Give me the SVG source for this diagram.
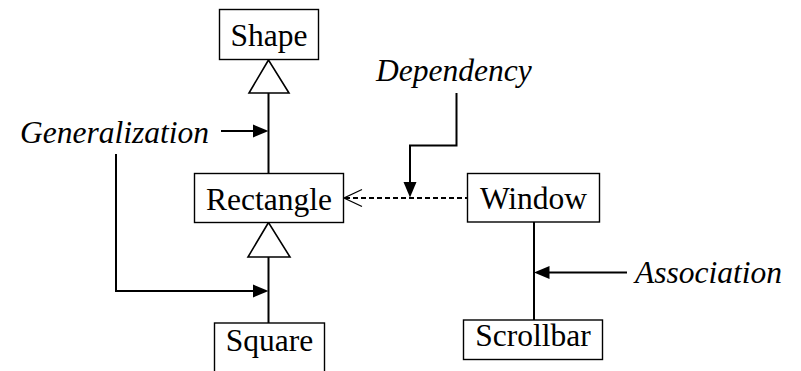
<svg xmlns="http://www.w3.org/2000/svg" width="801" height="371" viewBox="0 0 801 371">
  <style>
    .box { fill: #fff; stroke: #000; stroke-width: 1.4; }
    .name { font-family: "Liberation Serif", "Times New Roman", serif; font-size: 31.5px; fill: #000; text-anchor: middle; }
    .note { font-family: "Liberation Serif", "Times New Roman", serif; font-size: 31.5px; font-style: italic; fill: #000; }
    .line { fill: none; stroke: #000; stroke-width: 2; }
    .dash { fill: none; stroke: #000; stroke-width: 2; stroke-dasharray: 5 3; }
    .tri { fill: #fff; stroke: #000; stroke-width: 1.6; stroke-linejoin: miter; }
    .head { fill: #000; stroke: none; }
  </style>
  <rect width="801" height="371" fill="#fff"/>

  <!-- connectors -->
  <g id="connectors">
    <!-- Rectangle generalizes to Shape -->
    <line class="line" x1="268.5" y1="93" x2="268.5" y2="173"/>
    <polygon class="tri" points="268.5,60 249,93 289,93"/>
    <!-- Square generalizes to Rectangle -->
    <line class="line" x1="268.5" y1="257" x2="268.5" y2="323"/>
    <polygon class="tri" points="268.5,222.5 248,257 290,257"/>
    <!-- Window depends on Rectangle -->
    <line class="dash" x1="345" y1="198" x2="467.5" y2="198"/>
    <polyline class="line" style="stroke-width:1.3" points="362,189.5 344,198 362,206.5"/>
    <!-- Window associated with Scrollbar -->
    <line class="line" x1="534" y1="222" x2="534" y2="320"/>

    <!-- label pointers -->
    <line class="line" x1="221" y1="131" x2="254" y2="131"/>
    <polygon class="head" points="268.5,131 253,124.5 253,137.5"/>

    <polyline class="line" points="116,154 116,291 254,291"/>
    <polygon class="head" points="268.5,291 253,284.5 253,297.5"/>

    <polyline class="line" points="456.5,93 456.5,145.5 410,145.5 410,183"/>
    <polygon class="head" points="410,197.5 403.5,182 416.5,182"/>

    <line class="line" x1="627" y1="272.5" x2="549" y2="272.5"/>
    <polygon class="head" points="534,272.5 549.5,266 549.5,279"/>
  </g>

  <!-- classes -->
  <g id="shape">
    <rect class="box" x="219.5" y="9.5" width="99" height="50"/>
    <text class="name" x="269" y="45.5">Shape</text>
  </g>
  <g id="rectangle">
    <rect class="box" x="194.5" y="173.5" width="149" height="49"/>
    <text class="name" x="269" y="210">Rectangle</text>
  </g>
  <g id="square">
    <rect class="box" x="214.5" y="323" width="110" height="52"/>
    <text class="name" x="269.5" y="351">Square</text>
  </g>
  <g id="window">
    <rect class="box" x="467.5" y="173.5" width="132" height="48.5"/>
    <text class="name" x="533.5" y="209">Window</text>
  </g>
  <g id="scrollbar">
    <rect class="box" x="463.5" y="320" width="139" height="39.5"/>
    <text class="name" x="533" y="346">Scrollbar</text>
  </g>

  <!-- relationship labels -->
  <g id="label-generalization">
    <text class="note" x="20" y="143">Generalization</text>
  </g>
  <g id="label-dependency">
    <text class="note" x="376" y="81">Dependency</text>
  </g>
  <g id="label-association">
    <text class="note" x="635" y="283">Association</text>
  </g>
</svg>
